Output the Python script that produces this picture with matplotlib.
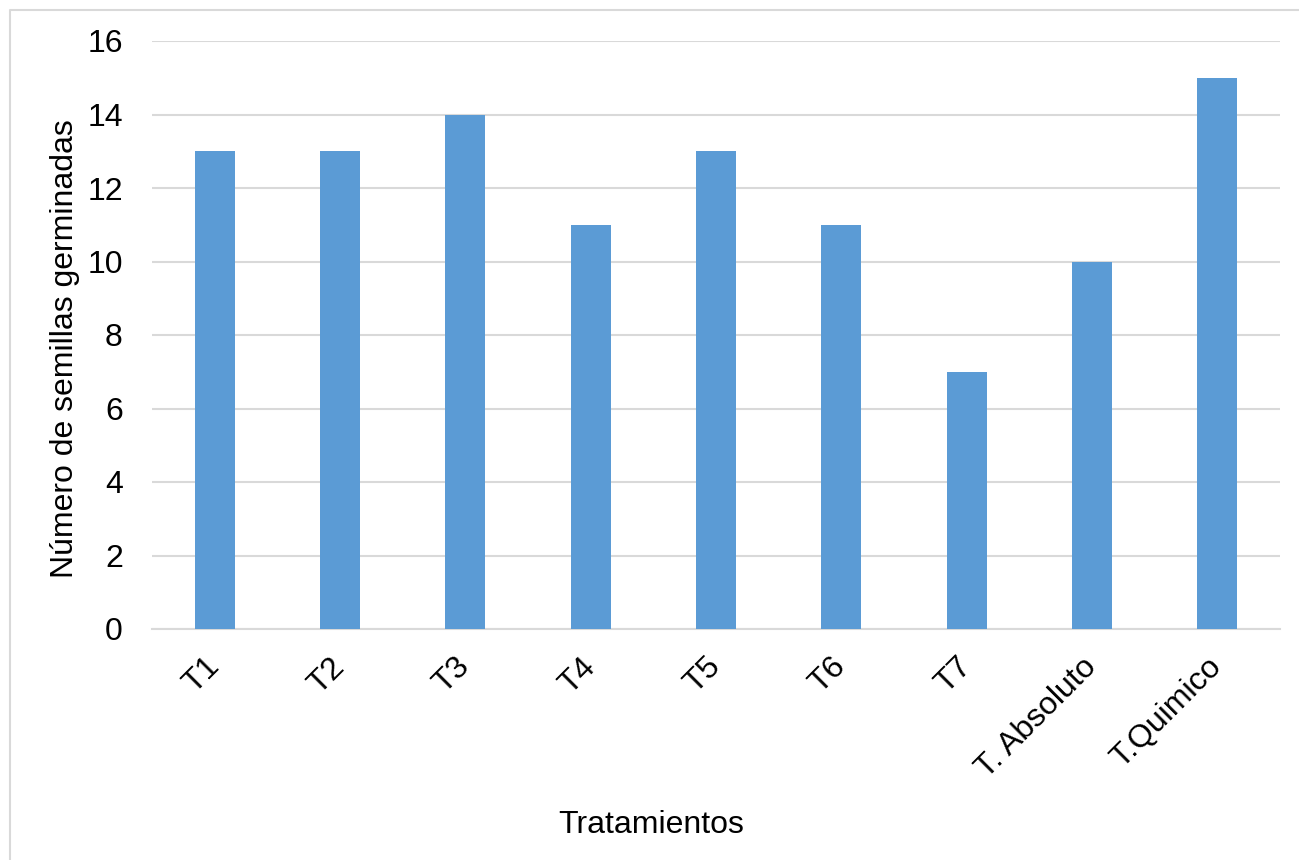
import matplotlib.pyplot as plt
from matplotlib.lines import Line2D

plt.rcParams['font.family'] = ['Liberation Sans', 'DejaVu Sans']

tratamientos = ["T1", "T2", "T3", "T4", "T5", "T6", "T7", "T. Absoluto", "T.Quimico"]
semillas = [13, 13, 14, 11, 13, 11, 7, 10, 15]
yticks = [0, 2, 4, 6, 8, 10, 12, 14, 16]

W, H = 1299, 860
fig = plt.figure(figsize=(W / 100, H / 100), dpi=100)
ax = fig.add_axes([152 / W, 1 - 629 / H, (1280 - 152) / W, (629 - 41) / H])

# light frame along the top and left edges
frame_x = [10 / W, 10 / W, 1.0]
frame_y = [0.0, 1 - 10 / H, 1 - 10 / H]
fig.lines.append(Line2D(frame_x, frame_y, transform=fig.transFigure,
                        color='#d9d9d9', linewidth=1.5))

x = list(range(len(tratamientos)))
ax.bar(x, semillas, width=0.32, color='#5b9bd5', zorder=3)

ax.set_xlim(-0.5, len(tratamientos) - 0.5)
ax.set_ylim(0, 16)
ax.set_yticks(yticks)
ax.set_yticklabels([str(v) for v in yticks], fontsize=23)
ax.yaxis.grid(True, color='#d9d9d9', linewidth=1.5, zorder=0)
ax.set_axisbelow(True)
for s in ['top', 'right', 'left']:
    ax.spines[s].set_visible(False)
ax.spines['bottom'].set_color('#d9d9d9')
ax.spines['bottom'].set_linewidth(1.5)
ax.tick_params(axis='both', length=0)
ax.tick_params(axis='y', pad=21)

ax.set_xticks(x)
ax.set_xticklabels(tratamientos, fontsize=23, rotation=45, ha='right',
                   va='center', rotation_mode='anchor')
ax.tick_params(axis='x', pad=24)

fig.text(651 / W, 1 - 825 / H, "Tratamientos", fontsize=23, ha='center', va='center')
fig.text(65 / W, 1 - 349 / H, "Número de semillas germinadas", fontsize=23,
         rotation=90, ha='center', va='center')

fig.savefig("out.png", dpi=100, facecolor='white')
